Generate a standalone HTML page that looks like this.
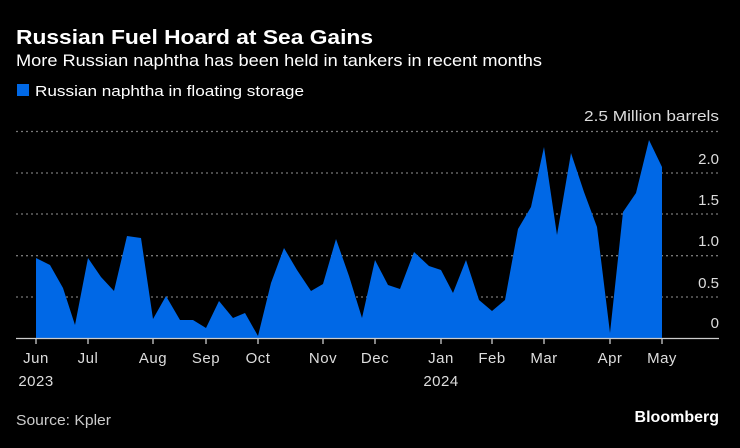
<!DOCTYPE html>
<html><head><style>
body{margin:0;background:#000;width:740px;height:443px;overflow:hidden;font-family:"Liberation Sans",sans-serif;color:#fff}
</style></head><body>
<svg width="740" height="443" xmlns="http://www.w3.org/2000/svg" font-family="Liberation Sans, sans-serif">
<rect width="740" height="443" fill="#000"/>
<text x="16" y="44" font-size="20" font-weight="bold" fill="#fff" textLength="357" lengthAdjust="spacingAndGlyphs">Russian Fuel Hoard at Sea Gains</text>
<text x="16" y="66" font-size="17" fill="#fff" textLength="526" lengthAdjust="spacingAndGlyphs">More Russian naphtha has been held in tankers in recent months</text>
<rect x="17" y="84" width="12" height="12" fill="#0068e6"/>
<text x="35" y="96" font-size="15" fill="#fff" textLength="269" lengthAdjust="spacingAndGlyphs">Russian naphtha in floating storage</text>
<text x="719" y="121" font-size="15" fill="#ddd" text-anchor="end" textLength="135" lengthAdjust="spacingAndGlyphs">2.5 Million barrels</text>
<g stroke="#777" stroke-width="1.3" stroke-dasharray="2,3">
<line x1="16" x2="719" y1="131.5" y2="131.5"/>
<line x1="16" x2="719" y1="173" y2="173"/>
<line x1="16" x2="719" y1="214" y2="214"/>
<line x1="16" x2="719" y1="255.7" y2="255.7"/>
<line x1="16" x2="719" y1="297" y2="297"/>
</g>
<polygon fill="#0068e6" points="36,338 36,258 50,265 63,288 75,325 88,258 101,277 114,291 127,236 141,238 153,319 166,296 180,320 193,320 206,328 219,301 233,318 245,313 258,336 271,283 284,248 297,270 311,291 323,284 336,239 349,276 362,318 375,260 388,285 400,289 414,252 429,266 441,270 453,293 466,260 479,300 492,311 505,300 518,229 531,207 544,147 557,235 571,153 584,192 597,227 610,333 623,212 636,193 649,140 662,167 662,338"/>
<g font-size="15" fill="#ddd" text-anchor="end">
<text x="719" y="164">2.0</text>
<text x="719" y="205">1.5</text>
<text x="719" y="246">1.0</text>
<text x="719" y="288">0.5</text>
<text x="719" y="328">0</text>
</g>
<line x1="16" x2="719" y1="338.5" y2="338.5" stroke="#ccc" stroke-width="1.3"/>
<g stroke="#ccc" stroke-width="1.3">
<line x1="36" x2="36" y1="338" y2="344"/><line x1="88" x2="88" y1="338" y2="344"/><line x1="153" x2="153" y1="338" y2="344"/><line x1="206" x2="206" y1="338" y2="344"/><line x1="258" x2="258" y1="338" y2="344"/><line x1="323" x2="323" y1="338" y2="344"/><line x1="375" x2="375" y1="338" y2="344"/><line x1="441" x2="441" y1="338" y2="344"/><line x1="492" x2="492" y1="338" y2="344"/><line x1="544" x2="544" y1="338" y2="344"/><line x1="610" x2="610" y1="338" y2="344"/><line x1="662" x2="662" y1="338" y2="344"/>
</g>
<g font-size="15" fill="#ddd" text-anchor="middle" letter-spacing="0.5">
<text x="36" y="363">Jun</text><text x="88" y="363">Jul</text><text x="153" y="363">Aug</text><text x="206" y="363">Sep</text><text x="258" y="363">Oct</text><text x="323" y="363">Nov</text><text x="375" y="363">Dec</text><text x="441" y="363">Jan</text><text x="492" y="363">Feb</text><text x="544" y="363">Mar</text><text x="610" y="363">Apr</text><text x="662" y="363">May</text>
<text x="36" y="386">2023</text><text x="441" y="386">2024</text>
</g>
<text x="16" y="425" font-size="15" fill="#ccc" textLength="95" lengthAdjust="spacingAndGlyphs">Source: Kpler</text>
<text x="719" y="422" font-size="16" font-weight="bold" fill="#fff" text-anchor="end">Bloomberg</text>
</svg>
</body></html>
